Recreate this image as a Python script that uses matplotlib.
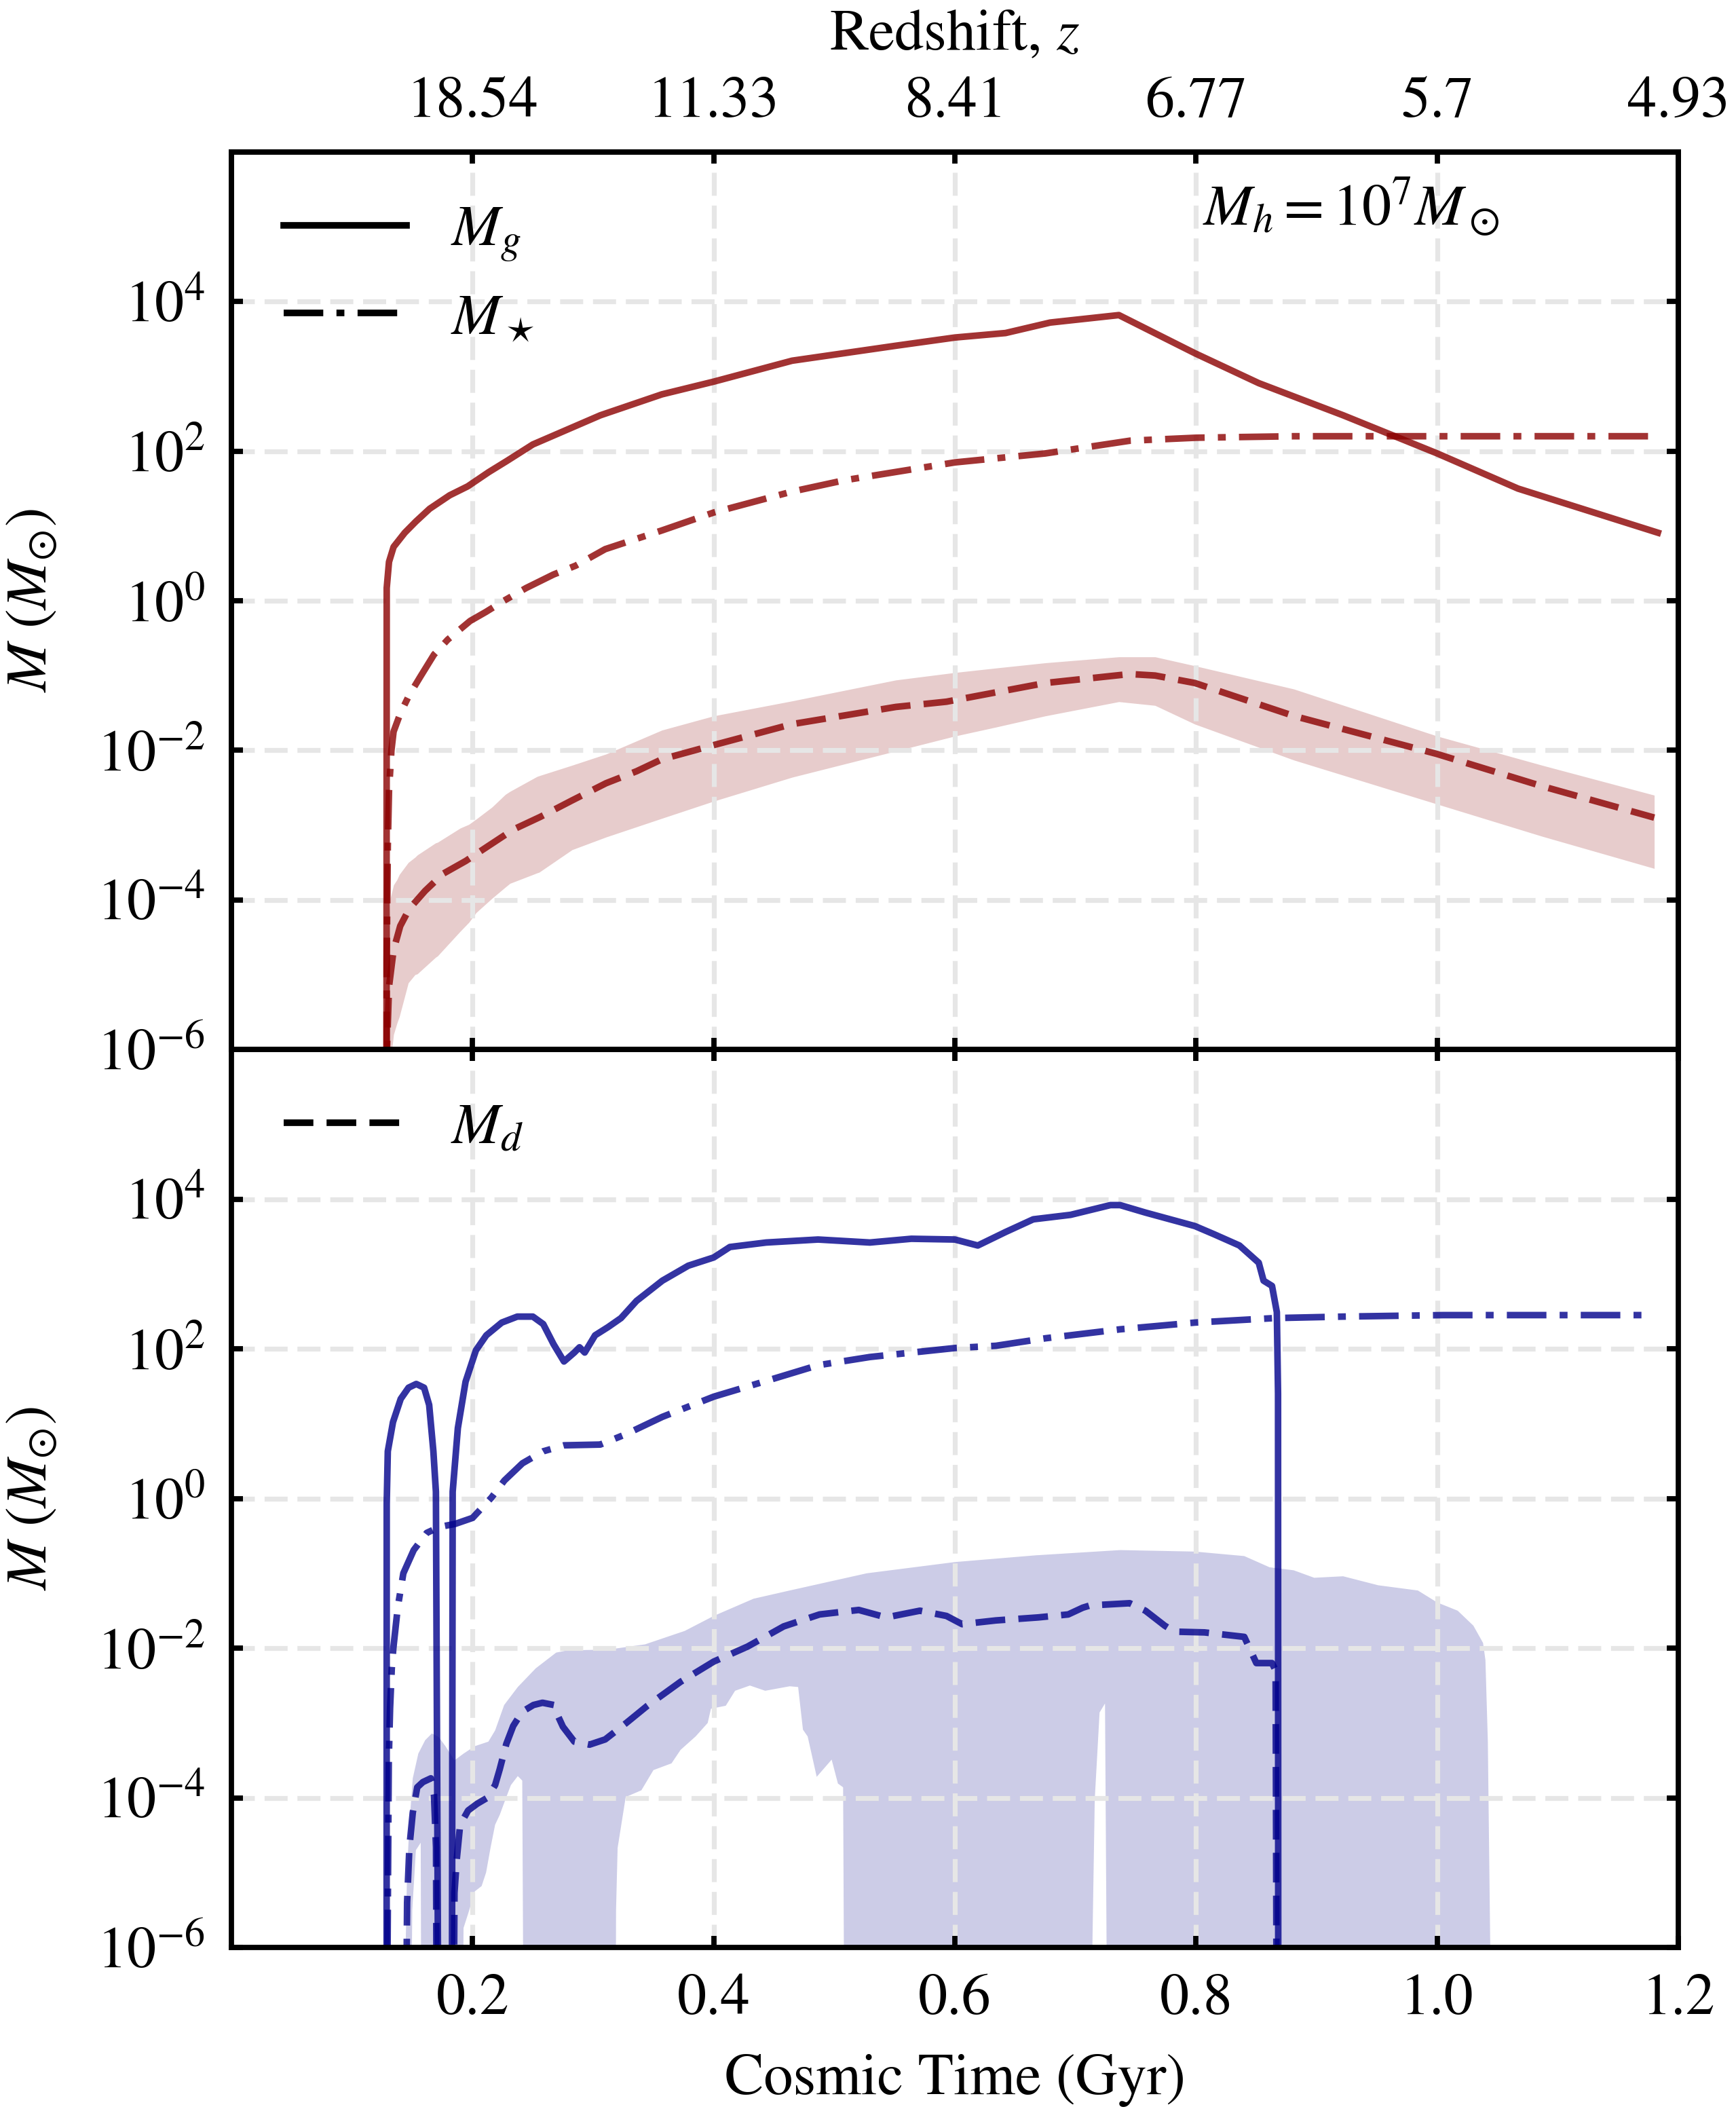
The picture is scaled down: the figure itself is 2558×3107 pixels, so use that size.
import numpy as np
import matplotlib
matplotlib.use("Agg")
import matplotlib.pyplot as plt
from matplotlib.lines import Line2D
from matplotlib.ticker import NullLocator

plt.rcParams['font.family'] = 'STIXGeneral'
plt.rcParams['mathtext.fontset'] = 'stix'
plt.rcParams['font.size'] = 31

# -------- data (log10 of mass in Msun vs cosmic time in Gyr) --------
# top panel, Mh = 1e7 Msun (red)
t_mg_top = [0.1286, 0.1288, 0.1307, 0.1345, 0.1438, 0.153, 0.1644, 0.181, 0.196, 0.2134,
            0.2285, 0.25, 0.306, 0.357, 0.4, 0.465, 0.551, 0.6, 0.642, 0.679, 0.736,
            0.799, 0.852, 0.922, 1.0, 1.067, 1.183]
mg_top = [-8, 0.17, 0.52, 0.72, 0.91, 1.06, 1.23, 1.41, 1.53, 1.72,
          1.87, 2.09, 2.48, 2.76, 2.93, 3.21, 3.41, 3.52, 3.58, 3.72, 3.82,
          3.31, 2.91, 2.48, 1.97, 1.50, 0.91]

t_ms_top = [0.1286, 0.1288, 0.1297, 0.1307, 0.1327, 0.1345, 0.14, 0.1475, 0.1569, 0.168,
            0.1794, 0.198, 0.211, 0.226, 0.2444, 0.267, 0.2856, 0.31, 0.357, 0.4, 0.465,
            0.508, 0.6, 0.675, 0.745, 0.8, 0.881, 1.0, 1.18]
ms_top = [-8, -4.77, -3.28, -2.54, -2.0, -1.75, -1.51, -1.26, -1.01, -0.72,
          -0.52, -0.27, -0.15, 0.0, 0.17, 0.35, 0.47, 0.69, 0.94, 1.18, 1.46,
          1.61, 1.85, 1.97, 2.14, 2.18, 2.20, 2.20, 2.20]

t_md_top = [0.1286, 0.129, 0.1307, 0.1345, 0.14, 0.1475, 0.1606, 0.1756, 0.1943, 0.213,
            0.2337, 0.2562, 0.2825, 0.3107, 0.336, 0.357, 0.4, 0.465, 0.551, 0.593,
            0.675, 0.745, 0.766, 0.799, 0.881, 1.0, 1.087, 1.18]
md_top = [-8, -6.0, -5.16, -4.67, -4.35, -4.12, -3.88, -3.65, -3.48, -3.28,
          -3.06, -2.89, -2.67, -2.44, -2.28, -2.12, -1.93, -1.65, -1.42, -1.35,
          -1.10, -0.98, -1.0, -1.10, -1.54, -2.05, -2.48, -2.90]

t_band_top = [0.1288, 0.13, 0.1317, 0.1345, 0.1373, 0.1393, 0.1467, 0.1523, 0.1542, 0.1692,
              0.171, 0.1898, 0.197, 0.203, 0.2161, 0.2272, 0.231, 0.2535, 0.2553, 0.2825,
              0.3107, 0.357, 0.4, 0.465, 0.551, 0.6, 0.634, 0.675, 0.736, 0.766,
              0.799, 0.881, 1.0, 1.087, 1.18]
band_up_top = [-6.0, -4.6, -3.98, -3.80, -3.73, -3.66, -3.50, -3.43, -3.40, -3.24,
               -3.23, -3.04, -2.99, -2.92, -2.76, -2.59, -2.55, -2.35, -2.34, -2.20,
               -2.05, -1.73, -1.54, -1.34, -1.06, -0.96, -0.90, -0.83, -0.75, -0.75,
               -0.87, -1.18, -1.81, -2.20, -2.60]
band_lo_top = [-8, -8, -6.2, -5.8, -5.65, -5.56, -5.11, -5.0, -4.99, -4.77,
               -4.75, -4.42, -4.30, -4.17, -3.98, -3.83, -3.78, -3.64, -3.63, -3.33,
               -3.16, -2.91, -2.68, -2.36, -2.01, -1.81, -1.69, -1.54, -1.35, -1.40,
               -1.65, -2.13, -2.72, -3.15, -3.58]

# bottom panel (blue)
t_mg_bot = [0.1287, 0.1288, 0.1297, 0.134, 0.1404, 0.1469, 0.1533, 0.1598, 0.164, 0.1675,
            0.1696, 0.1718, 0.1828, 0.1835, 0.1878, 0.1942, 0.2028, 0.2114, 0.2242, 0.2371,
            0.25, 0.2586, 0.2672, 0.2758, 0.2844, 0.2887, 0.293, 0.3016, 0.3124, 0.3231,
            0.336, 0.3574, 0.3789, 0.4, 0.4134, 0.4435, 0.4865, 0.5295, 0.5639, 0.6,
            0.619, 0.642, 0.665, 0.696, 0.729, 0.737, 0.758, 0.799, 0.815, 0.836,
            0.852, 0.856, 0.863, 0.867, 0.868, 0.8682]
mg_bot = [-8, -0.07, 0.63, 1.02, 1.33, 1.48, 1.53, 1.48, 1.25, 0.63,
          0.09, -8, -8, 0.09, 0.94, 1.56, 1.98, 2.18, 2.35, 2.43,
          2.43, 2.33, 2.06, 1.83, 1.95, 2.02, 1.95, 2.18, 2.29, 2.41,
          2.64, 2.91, 3.11, 3.22, 3.36, 3.42, 3.46, 3.42, 3.47, 3.46,
          3.38, 3.56, 3.73, 3.79, 3.92, 3.92, 3.82, 3.64, 3.53, 3.38,
          3.15, 2.91, 2.84, 2.49, 1.40, -8]

t_ms_bot = [0.1287, 0.1305, 0.1316, 0.133, 0.1343, 0.138, 0.1426, 0.1512, 0.162, 0.1727,
            0.1856, 0.2, 0.2156, 0.2264, 0.2414, 0.2586, 0.2758, 0.3059, 0.3274, 0.3574,
            0.4, 0.4435, 0.4865, 0.5295, 0.6, 0.634, 0.675, 0.737, 0.799, 0.865,
            0.922, 1.005, 1.18]
ms_bot = [-8, -3.5, -2.8, -2.27, -2.0, -1.45, -1.0, -0.69, -0.46, -0.38,
          -0.34, -0.26, 0.01, 0.24, 0.47, 0.63, 0.71, 0.72, 0.86, 1.09,
          1.36, 1.57, 1.78, 1.89, 2.01, 2.04, 2.14, 2.26, 2.35, 2.41,
          2.43, 2.45, 2.45]

t_md_bot = [0.1444, 0.1457, 0.1476, 0.1504, 0.1541, 0.1588, 0.1654, 0.168, 0.1697, 0.1704,
            0.184, 0.185, 0.1869, 0.1897, 0.1963, 0.2038, 0.2122, 0.2187, 0.2225, 0.228,
            0.2337, 0.2412, 0.2505, 0.258, 0.2674, 0.2712, 0.2749, 0.2844, 0.297, 0.31,
            0.3275, 0.345, 0.3725, 0.4, 0.428, 0.458, 0.4878, 0.5203, 0.543, 0.571,
            0.593, 0.606, 0.634, 0.669, 0.694, 0.706, 0.712, 0.745, 0.758, 0.774,
            0.782, 0.807, 0.84, 0.85, 0.863, 0.866, 0.867]
md_bot = [-8, -5.40, -4.66, -4.20, -3.86, -3.79, -3.74, -3.96, -4.66, -8,
          -8, -5.27, -4.82, -4.36, -4.17, -4.08, -4.0, -3.83, -3.62, -3.28,
          -3.04, -2.85, -2.76, -2.73, -2.76, -2.92, -3.05, -3.25, -3.29, -3.22,
          -3.0, -2.77, -2.45, -2.18, -1.98, -1.71, -1.55, -1.49, -1.59, -1.50,
          -1.57, -1.68, -1.63, -1.59, -1.55, -1.46, -1.43, -1.40, -1.50, -1.70,
          -1.78, -1.79, -1.85, -2.20, -2.20, -2.30, -8]

t_band_up_bot = [0.1433, 0.1457, 0.1476, 0.1504, 0.155, 0.1607, 0.1663, 0.172, 0.1775, 0.185,
                 0.1925, 0.2019, 0.2131, 0.2187, 0.2262, 0.2375, 0.2524, 0.2693, 0.2787, 0.3124,
                 0.343, 0.376, 0.4, 0.433, 0.463, 0.527, 0.6, 0.667, 0.737, 0.799,
                 0.84, 0.861, 0.881, 0.898, 0.922, 0.951, 0.984, 1.0, 1.017, 1.03,
                 1.038, 1.04, 1.042, 1.044]
band_up_bot = [-7, -4.97, -4.36, -3.74, -3.41, -3.23, -3.14, -3.19, -3.31, -3.50,
               -3.41, -3.31, -3.25, -3.10, -2.76, -2.52, -2.27, -2.06, -2.03, -2.02,
               -1.95, -1.77, -1.57, -1.34, -1.23, -1.00, -0.85, -0.76, -0.69, -0.71,
               -0.77, -0.92, -0.96, -1.06, -1.04, -1.16, -1.23, -1.39, -1.50, -1.70,
               -1.93, -2.16, -3.25, -6]

t_band_lo_bot = [0.1433, 0.1485, 0.15, 0.153, 0.157, 0.1576, 0.1916, 0.1925, 0.1963, 0.2019,
                 0.2075, 0.2112, 0.215, 0.2187, 0.2225, 0.228, 0.2318, 0.2375, 0.2412, 0.2425,
                 0.3186, 0.319, 0.3203, 0.327, 0.34, 0.35, 0.365, 0.3725, 0.385, 0.395,
                 0.3977, 0.41, 0.4177, 0.43, 0.4427, 0.463, 0.47, 0.474, 0.4779, 0.4854,
                 0.4978, 0.503, 0.5073, 0.5085, 0.712, 0.716, 0.72, 0.7245, 0.7266, 1.044]
band_lo_bot = [-8, -8, -5.5, -4.7, -4.6, -8, -8, -5.74, -5.55, -5.25,
               -5.18, -5.0, -4.66, -4.36, -4.23, -3.99, -3.83, -3.71, -3.77, -8,
               -8, -5.5, -4.67, -3.99, -3.90, -3.63, -3.54, -3.36, -3.18, -3.0,
               -2.81, -2.77, -2.57, -2.50, -2.57, -2.51, -2.52, -3.09, -3.18, -3.72,
               -3.49, -3.81, -3.86, -8, -8, -4.02, -2.86, -2.74, -8, -8]

time_ticks = [0.2, 0.4, 0.6, 0.8, 1.0, 1.2]
time_labels = ['0.2', '0.4', '0.6', '0.8', '1.0', '1.2']
z_labels = ['18.54', '11.33', '8.41', '6.77', '5.7', '4.93']
mass_ticks = [1e-6, 1e-4, 1e-2, 1e0, 1e2, 1e4]

LW = 3.5
DASH = (4.5, 2.0)
DASHDOT = (6, 2, 1.2, 2)

fig = plt.figure(figsize=(12.79, 15.535), dpi=200)
ax_top = fig.add_axes([0.1333, 0.5024, 0.8335, 0.4255])
ax_bot = fig.add_axes([0.1333, 0.0766, 0.8335, 0.4258])


def style_axis(ax):
    ax.set_yscale('log')
    ax.set_xlim(0, 1.2)
    ax.set_ylim(1e-6, 1e6)
    ax.set_xticks(time_ticks)
    ax.set_yticks(mass_ticks)
    ax.yaxis.set_minor_locator(NullLocator())
    ax.grid(True, which='major', color='0.9', lw=2.6, ls=(0, (4.7, 2.0)))
    ax.tick_params(which='both', direction='in', length=6, width=2.8,
                   top=True, right=True, pad=14, labelsize=31)
    for sp in ax.spines.values():
        sp.set_linewidth(2.8)
    ax.set_ylabel(r'$M\ (M_{\odot})$', fontsize=31, labelpad=20)


def to_mass(vals):
    return 10 ** np.array(vals, dtype=float)


# -------- top panel --------
ax = ax_top
style_axis(ax)
ax.fill_between(t_band_top, to_mass(band_lo_top), to_mass(band_up_top),
                color='darkred', alpha=0.2, lw=0)
ax.plot(t_mg_top, to_mass(mg_top), color='darkred', alpha=0.8, lw=LW)
ax.plot(t_ms_top, to_mass(ms_top), color='darkred', alpha=0.8, lw=LW, dashes=DASHDOT)
ax.plot(t_md_top, to_mass(md_top), color='darkred', alpha=0.8, lw=LW, dashes=DASH)
ax.tick_params(labelbottom=False)
ax.text(0.774, 0.939, r'$M_h = 10^7 M_\odot$', transform=ax.transAxes,
        ha='center', va='center', fontsize=31)
handles = [Line2D([], [], color='k', lw=LW),
           Line2D([], [], color='k', lw=LW, dashes=DASHDOT)]
ax.legend(handles, [r'$M_g$', r'$M_\star$'], loc='upper left', frameon=False,
          fontsize=31, handlelength=2.1, handletextpad=0.75)

ax_z = ax.twiny()
ax_z.set_xlim(ax.get_xlim())
ax_z.set_xticks(time_ticks)
ax_z.set_xticklabels(z_labels)
ax_z.tick_params(direction='in', length=6, width=2.8, pad=12, labelsize=31)
ax_z.set_xlabel(r'Redshift, $z$', fontsize=31, labelpad=14)
for sp in ax_z.spines.values():
    sp.set_linewidth(2.8)

# -------- bottom panel --------
ax = ax_bot
style_axis(ax)
ax.fill(np.concatenate([t_band_up_bot, t_band_lo_bot[::-1]]),
        np.concatenate([to_mass(band_up_bot), to_mass(band_lo_bot)[::-1]]),
        color='darkblue', alpha=0.2, lw=0)
ax.plot(t_mg_bot, to_mass(mg_bot), color='darkblue', alpha=0.8, lw=LW)
ax.plot(t_ms_bot, to_mass(ms_bot), color='darkblue', alpha=0.8, lw=LW, dashes=DASHDOT)
ax.plot(t_md_bot, to_mass(md_bot), color='darkblue', alpha=0.8, lw=LW, dashes=DASH)
ax.set_xticklabels(time_labels)
ax.set_xlabel('Cosmic Time (Gyr)', fontsize=31, labelpad=14)
ax.legend([Line2D([], [], color='k', lw=LW, dashes=DASH)], [r'$M_d$'],
          loc='upper left', frameon=False, fontsize=31,
          handlelength=2.1, handletextpad=0.75)

fig.savefig('out.png', dpi=200)
